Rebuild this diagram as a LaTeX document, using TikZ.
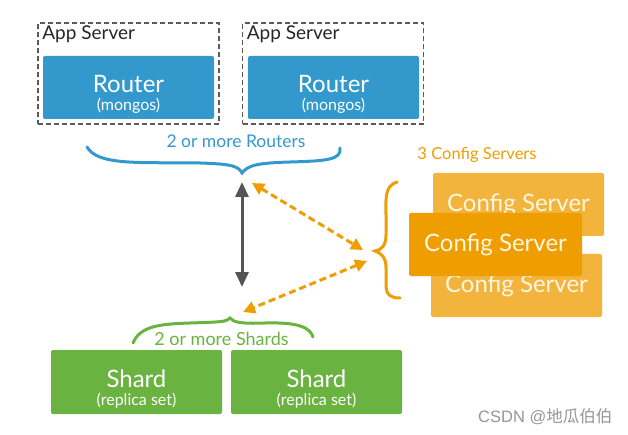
\documentclass[tikz,border=0pt]{standalone}
\usepackage{fontspec}
\setmainfont{Lato}
\newfontfamily\wmfont{Liberation Sans}
\newfontfamily\cjkfont{Noto Sans CJK SC}
\usetikzlibrary{arrows.meta}
\definecolor{routerblue}{RGB}{51,153,204}
\definecolor{cfgorange}{RGB}{238,158,0}
\definecolor{cfglight}{RGB}{243,180,62}
\definecolor{cfgtext}{RGB}{255,246,224}
\definecolor{shardgreen}{RGB}{106,179,64}
\definecolor{arrowgray}{RGB}{85,85,85}
\definecolor{boxgray}{RGB}{90,90,90}
\definecolor{wmgray}{RGB}{150,150,150}
\newcommand\bigtxt{\fontsize{24}{24}\selectfont}
\newcommand\subtxt{\fontsize{16}{16}\selectfont}
\newcommand\lbltxt{\fontsize{17}{17}\selectfont}
\newcommand\topstrut{\rule{0pt}{31pt}}
\begin{document}
\begin{tikzpicture}[x=1pt,y=-1pt,
	appbox/.style={draw=boxgray,line width=1.8pt,dash pattern=on 5pt off 3pt,minimum width=181pt,minimum height=101pt,inner sep=0pt},
	tbox/.style={rounded corners=2pt,minimum width=171pt,minimum height=63pt,text=white,align=center,font=\bigtxt,inner sep=0pt},
	lbl/.style={anchor=base,inner sep=0pt,font=\lbltxt},
	bracel/.style={line width=3pt,line cap=round}]
	\useasboundingbox (0,0) rectangle (628,435);
	% app servers with routers
	\node[appbox] (app1) at (128.5,73.5) {};
	\node[appbox] (app2) at (333,73.5) {};
	\node[anchor=north west,inner sep=0pt,font=\fontsize{19}{19}\selectfont,text=black!85] (app1lbl) at ([shift={(5,3)}]app1.north west) {App Server};
	\node[anchor=north west,inner sep=0pt,font=\fontsize{19}{19}\selectfont,text=black!85] (app2lbl) at ([shift={(5,3)}]app2.north west) {App Server};
	\node[tbox,fill=routerblue] (router1) at (128.5,87.5) {\topstrut Router\\[-6pt]\subtxt (mongos)};
	\node[tbox,fill=routerblue] (router2) at (333.5,87.5) {\topstrut Router\\[-6pt]\subtxt (mongos)};
	% config servers
	\node[tbox,fill=cfglight,text=cfgtext] (cfg1) at (518.5,204.5) {Config Server};
	\node[tbox,fill=cfglight,text=cfgtext] (cfg3) at (516.5,285.5) {Config Server};
	\node[tbox,fill=cfgorange,text=cfgtext,minimum width=173pt] (cfg2) at (495.5,244.5) {Config Server};
	% shards
	\node[tbox,fill=shardgreen,minimum height=64pt] (shard1) at (136.5,382) {\topstrut Shard\\[-6pt]\subtxt (replica set)};
	\node[tbox,fill=shardgreen,minimum height=64pt] (shard2) at (316.5,382) {\topstrut Shard\\[-6pt]\subtxt (replica set)};
	% labels
	\node[lbl,text=routerblue,font=\fontsize{17.5}{17.5}\selectfont] (rlbl) at (236,148) {2 or more Routers};
	\node[lbl,text=cfgorange,font=\fontsize{16.5}{16.5}\selectfont] (clbl) at (477,160) {3 Config Servers};
	\node[lbl,text=shardgreen,font=\fontsize{18}{18}\selectfont] (slbl) at (221.5,345) {2 or more Shards};
	% braces
	\coordinate (rtip) at (242,173);
	\coordinate (ctip) at (375,251);
	\coordinate (stip) at (230,318);
	\draw[bracel,routerblue] (87,147) .. controls (98,166) and (140,162) .. (200,163) .. controls (232,164) and (238,166) .. (rtip) .. controls (248,165) and (258,163) .. (290,162) .. controls (325,161) and (342,160) .. (340,148);
	\draw[bracel,cfgorange] (397,182) .. controls (384,186) and (386,200) .. (386,215) -- (386,235) .. controls (386,246) and (381,250) .. (ctip) .. controls (381,253) and (386,257) .. (386,268) -- (386,285) .. controls (386,296) and (392,298) .. (400,298);
	\draw[bracel,shardgreen] (133,343) .. controls (140,326) and (160,324) .. (190,323) .. controls (220,322) and (227,322) .. (stip) .. controls (233,322) and (240,324) .. (265,323) .. controls (300,322) and (310,328) .. (313,337);
	% arrows
	\coordinate (gtop) at (242,182);
	\coordinate (gbot) at (242,287);
	\coordinate (oa1) at (252,183);
	\coordinate (oa2) at (363,250);
	\coordinate (ob1) at (367,261);
	\coordinate (ob2) at (243,312);
	\draw[{Triangle[width=13pt,length=15pt]}-{Triangle[width=13pt,length=15pt]},line width=3pt,arrowgray] (gtop) -- (gbot);
	\draw[{Triangle[width=12pt,length=12pt]}-{Triangle[width=12pt,length=12pt]},line width=3pt,cfgorange,dash pattern=on 7pt off 4pt] (oa1) -- (oa2);
	\draw[{Triangle[width=12pt,length=12pt]}-{Triangle[width=12pt,length=12pt]},line width=3pt,cfgorange,dash pattern=on 7pt off 4pt] (ob1) -- (ob2);
	% watermark
	\node[anchor=base west,inner sep=0pt,text=wmgray,font=\fontsize{16.5}{16.5}\selectfont] (wm) at (478,422) {\wmfont CSDN @\cjkfont 地瓜伯伯};
\end{tikzpicture}
\end{document}
